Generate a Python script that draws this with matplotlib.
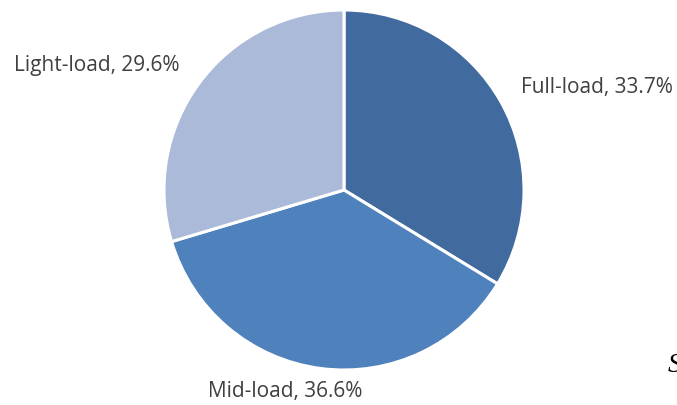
import matplotlib
matplotlib.use("Agg")
import matplotlib.pyplot as plt

labels = ["Full-load", "Mid-load", "Light-load"]
shares = [33.7, 36.6, 29.6]
colors = ["#416A9E", "#4F81BD", "#AABAD8"]

W, H = 677, 406
fig = plt.figure(figsize=(W / 100, H / 100), dpi=100)
cx, cy, r = 344, 215, 180
ax = fig.add_axes([(cx - r) / W, (cy - r) / H, 2 * r / W, 2 * r / H])
ax.pie(shares, colors=colors, startangle=90, counterclock=False,
       wedgeprops=dict(edgecolor="white", linewidth=2.2))
ax.set_xlim(-1, 1); ax.set_ylim(-1, 1)
ax.axis("off")

txt = [f"{l}, {v:.1f}%" for l, v in zip(labels, shares)]
kw = dict(fontsize=15, color="#404040", family=["Open Sans", "DejaVu Sans"], va="center")
fig.text(521 / W, 1 - 88 / H, txt[0], ha="left", **kw)
fig.text(285 / W, 1 - 392 / H, txt[1], ha="center", **kw)
fig.text(97 / W, 1 - 66 / H, txt[2], ha="center", **kw)
fig.text(668 / W, 1 - 366 / H, "S", fontsize=20, style="italic",
         family="Liberation Serif", ha="left", va="center", color="black")

fig.savefig("out.png", dpi=100)
